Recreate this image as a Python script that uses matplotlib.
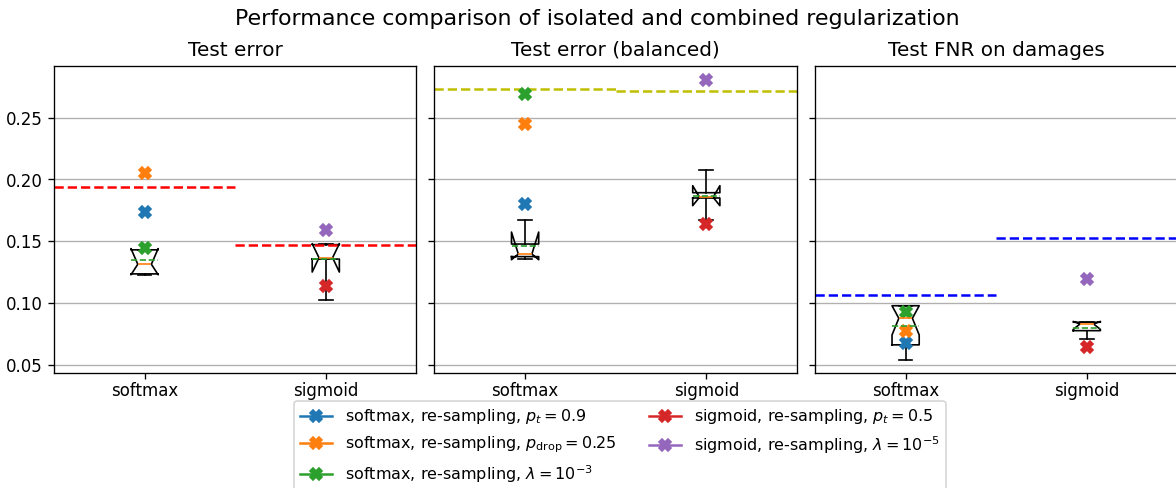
import numpy as np
import matplotlib.pyplot as plt

# Panels and models
panel_titles = ["Test error", "Test error (balanced)", "Test FNR on damages"]
models = ["softmax", "sigmoid"]

# Box statistics per panel, [softmax, sigmoid]
box_med = [[0.1313, 0.1366], [0.1396, 0.1856], [0.0875, 0.0829]]
box_mean = [[0.1345, 0.1355], [0.1464, 0.1869], [0.0815, 0.0800]]
box_q1 = [[0.1235, 0.1355], [0.1375, 0.1850], [0.0660, 0.0775]]
box_q3 = [[0.1430, 0.1472], [0.1477, 0.1893], [0.0977, 0.0843]]
box_cilo = [[0.1228, 0.1250], [0.1350, 0.1788], [0.0740, 0.0785]]
box_cihi = [[0.1440, 0.1480], [0.1574, 0.1950], [0.0977, 0.0850]]
box_whislo = [[0.1222, 0.1023], [0.1358, 0.1672], [0.0537, 0.0707]]
box_whishi = [[0.1430, 0.1475], [0.1672, 0.2077], [0.0977, 0.0843]]

# Baselines (dashed lines), [softmax, sigmoid]
baselines = [[0.1937, 0.1470], [0.2731, 0.2717], [0.1064, 0.1526]]
baseline_colors = ["r", "y", "b"]

# Re-sampling runs
run_labels = [
    r"softmax, re-sampling, $p_t = 0.9$",
    r"softmax, re-sampling, $p_{\mathrm{drop}} = 0.25$",
    r"softmax, re-sampling, $\lambda = 10^{-3}$",
    r"sigmoid, re-sampling, $p_t = 0.5$",
    r"sigmoid, re-sampling, $\lambda = 10^{-5}$",
]
run_model = [0, 0, 0, 1, 1]
run_colors = ["C0", "C1", "C2", "C3", "C4"]
run_values = [
    [0.1737, 0.2050, 0.1447, 0.1140, 0.1590],
    [0.1800, 0.2447, 0.2693, 0.1639, 0.2806],
    [0.0673, 0.0775, 0.0929, 0.0640, 0.1190],
]

fig, axes = plt.subplots(1, 3, sharey=True, figsize=(9.8, 4.0667), dpi=120)
fig.subplots_adjust(left=0.0459, right=1.0012, top=0.8648, bottom=0.2357, wspace=0.05)
fig.suptitle("Performance comparison of isolated and combined regularization",
             fontsize=13.3, x=0.508, y=0.982)

for p, ax in enumerate(axes):
    stats = []
    for m, name in enumerate(models):
        stats.append(dict(label=name, med=box_med[p][m], mean=box_mean[p][m],
                          q1=box_q1[p][m], q3=box_q3[p][m],
                          cilo=box_cilo[p][m], cihi=box_cihi[p][m],
                          whislo=box_whislo[p][m], whishi=box_whishi[p][m],
                          fliers=[]))
    ax.bxp(stats, positions=[1, 2], shownotches=True, showmeans=True, meanline=True)

    for m in range(2):
        ax.axhline(baselines[p][m], xmin=0.5 * m, xmax=0.5 * (m + 1),
                   color=baseline_colors[p], ls="--", lw=1.5)

    for i, lab in enumerate(run_labels):
        ax.plot([run_model[i] + 1], [run_values[p][i]], marker="X", ms=7,
                color=run_colors[i], label=lab)

    ax.set_title(panel_titles[p], fontsize=12)
    ax.yaxis.grid(True)
    ax.set_axisbelow(True)
    ax.set_xlim(0.5, 2.5)
    ax.tick_params(axis="x", pad=2)

axes[0].set_ylim(0.0432, 0.292)
axes[0].set_yticks([0.05, 0.10, 0.15, 0.20, 0.25])

handles, labels = axes[0].get_legend_handles_labels()
fig.legend(handles, labels, loc="upper center", bbox_to_anchor=(0.527, 0.195),
           ncol=2, fontsize=9.6)

fig.savefig("out.png", dpi=120)
